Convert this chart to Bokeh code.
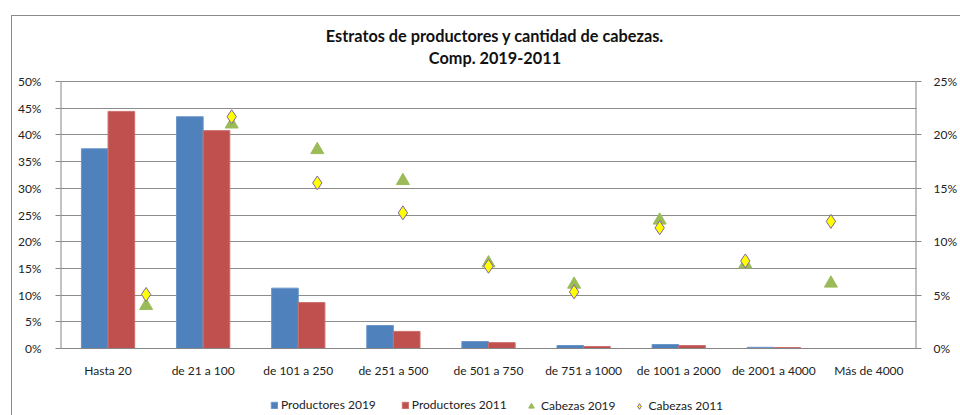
from bokeh.plotting import figure
from bokeh.models import (Range1d, LinearAxis, NumeralTickFormatter, FixedTicker,
                          Legend, LegendItem, Label, ColumnDataSource)
from bokeh.embed import file_html
from bokeh.resources import INLINE

categories = ["Hasta 20", "de 21 a 100", "de 101 a 250", "de 251 a 500", "de 501 a 750",
              "de 751 a 1000", "de 1001 a 2000", "de 2001 a 4000", "Más de 4000"]
productores_2019 = [0.374, 0.434, 0.113, 0.043, 0.013, 0.0056, 0.0075, 0.0022, 0.0]
productores_2011 = [0.444, 0.408, 0.086, 0.032, 0.011, 0.0037, 0.0056, 0.0018, 0.0]
cabezas_2019 = [0.040, 0.210, 0.186, 0.157, 0.080, 0.060, 0.120, 0.079, 0.061]
cabezas_2011 = [0.0506, 0.217, 0.155, 0.127, 0.077, 0.053, 0.113, 0.082, 0.119]
scatter_x = [1, 2, 3, 4, 5, 6, 7, 8, 9]
left_ticks = [0, 0.05, 0.10, 0.15, 0.20, 0.25, 0.30, 0.35, 0.40, 0.45, 0.50]
right_ticks = [0, 0.05, 0.10, 0.15, 0.20, 0.25]
title_lines = ["Estratos de productores y cantidad de cabezas.", "Comp. 2019-2011"]

FONT = "Lato"
GRID = "#8c8c8c"
AXIS = "#868686"
TXT = "#222222"

# layout geometry (pixels)
W, H = 960, 415
FRAME_L, FRAME_R, FRAME_T, ZERO_Y = 60, 923, 81, 348
LEFT_MAX, RIGHT_MAX = 0.5, 0.25
N = len(categories)


def y_at(px, top=LEFT_MAX):
    return top - (px - FRAME_T) * top / (ZERO_Y - FRAME_T)


def x_at(px):
    return (px - FRAME_L) * N / (FRAME_R - FRAME_L)


centers = [i + 0.5 for i in range(N)]
BW = 0.28
src = ColumnDataSource(dict(x19=[c - BW / 2 for c in centers], x11=[c + BW / 2 for c in centers],
                            p19=productores_2019, p11=productores_2011))
sc = ColumnDataSource(dict(x=scatter_x, c19=cabezas_2019, c11=cabezas_2011))

p = figure(width=W, height=H, x_range=Range1d(0, N), y_range=Range1d(y_at(H), y_at(0)),
           output_backend="svg", toolbar_location=None,
           min_border_left=FRAME_L, min_border_right=W - FRAME_R, min_border_top=0,
           min_border_bottom=0)
p.extra_y_ranges = {"right": Range1d(y_at(H, RIGHT_MAX), y_at(0, RIGHT_MAX))}
p.extra_x_ranges = {"sec": Range1d(0, 10)}
p.outline_line_color = None
p.background_fill_alpha = 0
p.border_fill_alpha = 0
p.styles = {
    "background": ("linear-gradient(#8a8a8a,#8a8a8a) no-repeat 11px 15px / 100% 1px, "
                   "linear-gradient(#8a8a8a,#8a8a8a) no-repeat 11px 15px / 1px 100%, white"),
}

# axis lines drawn at the frame edges (from 0% to the top)
p.segment(x0=[0, N], y0=[0, 0], x1=[0, N], y1=[LEFT_MAX, LEFT_MAX],
          line_color=AXIS, line_width=2)

r1 = p.vbar(x="x19", top="p19", width=BW, source=src,
            fill_color="#4F81BD", line_color="#6a95c8", line_width=1)
r2 = p.vbar(x="x11", top="p11", width=BW, source=src,
            fill_color="#C0504D", line_color="#cc6f6c", line_width=1)
r3 = p.scatter(x="x", y="c19", source=sc, x_range_name="sec", y_range_name="right",
               marker="triangle", size=13, fill_color="#9BBB59", line_color="#9BBB59")
r4 = p.scatter(x="x", y="c11", source=sc, x_range_name="sec", y_range_name="right",
               marker="diamond", size=14, fill_color="#FFFF00", line_color="#8064A2", line_width=1)

# left axis
ya = p.yaxis[0]
ya.ticker = FixedTicker(ticks=left_ticks)
ya.formatter = NumeralTickFormatter(format="0%")
ya.axis_line_color = None
ya.major_tick_line_color = AXIS
ya.major_tick_out = 5
ya.major_tick_in = 0
ya.minor_tick_line_color = None
ya.major_label_text_font = FONT
ya.major_label_text_font_size = "12px"
ya.major_label_text_color = TXT
ya.major_label_standoff = 14

ra = LinearAxis(y_range_name="right", ticker=FixedTicker(ticks=right_ticks),
                formatter=NumeralTickFormatter(format="0%"))
ra.axis_line_color = None
ra.major_tick_line_color = AXIS
ra.major_tick_out = 5
ra.major_tick_in = 0
ra.minor_tick_line_color = None
ra.major_label_text_font = FONT
ra.major_label_text_font_size = "12px"
ra.major_label_text_color = TXT
ra.major_label_standoff = 12
p.add_layout(ra, "right")

xa = p.xaxis[0]
xa.fixed_location = 0
xa.ticker = FixedTicker(ticks=centers)
xa.major_label_overrides = {c: lab for c, lab in zip(centers, categories)}
xa.axis_line_color = AXIS
xa.major_tick_line_color = None
xa.minor_tick_line_color = None
xa.major_label_text_font = FONT
xa.major_label_text_font_size = "12px"
xa.major_label_text_color = TXT
xa.major_label_standoff = 8

p.xgrid.grid_line_color = None
p.ygrid.grid_line_color = GRID
p.ygrid.grid_line_width = 1

# titles (two centred bold lines)
for txt, py in zip(title_lines, [35, 57]):
    p.add_layout(Label(x=x_at(498), y=y_at(py), text=txt, text_align="center",
                       text_baseline="middle", text_font=FONT, text_font_size="16.3px",
                       text_font_style="bold", text_color="#111111"))

common = dict(orientation="horizontal", label_text_font=FONT, label_text_font_size="12px",
              label_text_color=TXT, label_standoff=3, border_line_color=None,
              background_fill_alpha=0, padding=2, margin=0, label_height=12)
legend_a = Legend(items=[LegendItem(label="Productores 2019", renderers=[r1]),
                         LegendItem(label="Productores 2011", renderers=[r2])],
                  location=(210, 3), glyph_width=8, glyph_height=8, spacing=25, **common)
legend_b = Legend(items=[LegendItem(label="Cabezas 2019", renderers=[r3]),
                         LegendItem(label="Cabezas 2011", renderers=[r4])],
                  location=(464, 2), glyph_width=14, glyph_height=14, spacing=16, **common)
p.add_layout(legend_a)
p.add_layout(legend_b)

open("out.html", "w").write(file_html(p, INLINE))
